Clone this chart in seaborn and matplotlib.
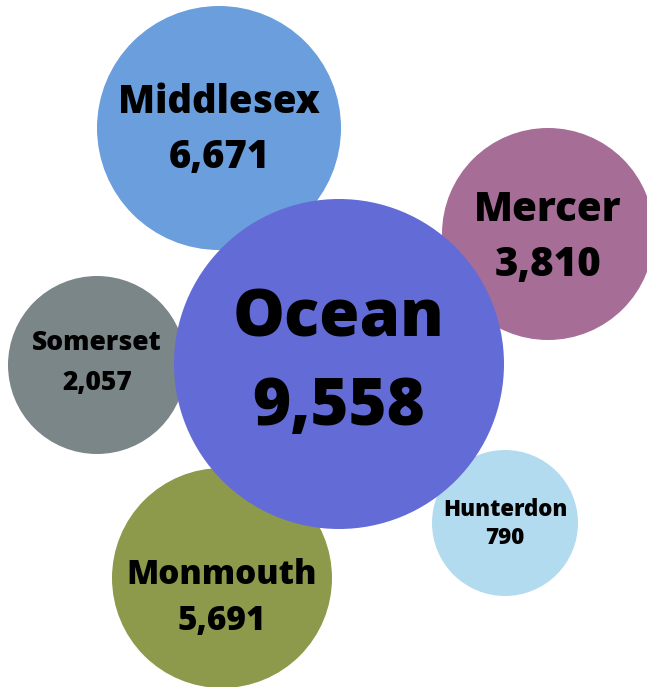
import pandas as pd
import matplotlib.pyplot as plt
import seaborn as sns

# bubble chart data
counties = ["Middlesex", "Mercer", "Somerset", "Monmouth", "Hunterdon", "Ocean"]
values = [6671, 3810, 2057, 5691, 790, 9558]
bubble_x = [219, 548, 97, 222, 505, 339]
bubble_y = [128, 234, 365, 578, 523, 364]
radius_px = [122, 106, 89, 110, 73, 165]
colors = ["#6A9EDC", "#A66D96", "#7A8688", "#8D9A4C", "#B3DBF0", "#636BD6"]

# label font sizes (pt) and vertical shift of the label block (px)
font_sizes = [27.5, 29, 19, 24, 16, 47]
label_shift = [2, 4, -2, 20, 1, 0]
line_gap = [1.45, 1.35, 1.5, 1.4, 1.3, 1.35]

df = pd.DataFrame({"county": counties, "value": values,
                   "x": bubble_x, "y": bubble_y, "r": radius_px})

DPI = 100
# marker area in pt^2 from the radius in pixels
df["s"] = (2 * df["r"] * 72 / DPI) ** 2

sns.set_theme(style="white")
plt.rcParams["font.family"] = ["Open Sans", "DejaVu Sans"]

fig = plt.figure(figsize=(6.47, 6.87), dpi=DPI)
ax = fig.add_axes([0, 0, 1, 1])
sns.scatterplot(data=df, x="x", y="y", hue="county", size="county",
                palette=dict(zip(counties, colors)),
                sizes=dict(zip(counties, df["s"])),
                linewidth=0, alpha=1, legend=False, ax=ax)
ax.set_xlim(0, 647)
ax.set_ylim(687, 0)
ax.axis("off")

for i, row in df.iterrows():
    fs = font_sizes[i]
    gap = fs * DPI / 72 * line_gap[i]
    cy = row["y"] + label_shift[i]
    ax.text(row["x"], cy - gap / 2, row["county"], ha="center", va="center",
            fontsize=fs, fontweight=800, color="black")
    ax.text(row["x"], cy + gap / 2, f"{row['value']:,}", ha="center", va="center",
            fontsize=fs, fontweight=800, color="black")

fig.savefig("out.png", dpi=DPI)
